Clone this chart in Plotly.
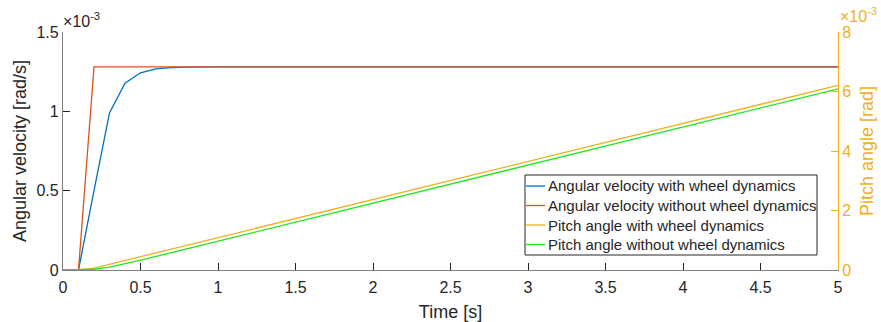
import plotly.graph_objects as go

# Time samples [s]
t = [0, 0.1, 0.2, 0.3, 0.4, 0.5, 0.6, 0.7, 0.8, 1, 2, 3, 4, 5]

# Angular velocity [rad/s]
omega_wheel = [0, 0, 0.50e-3, 0.99e-3, 1.177e-3, 1.243e-3, 1.268e-3, 1.276e-3, 1.279e-3,
               1.28e-3, 1.28e-3, 1.28e-3, 1.28e-3, 1.28e-3]
omega_nowheel = [0, 0, 1.28e-3, 1.28e-3, 1.28e-3, 1.28e-3, 1.28e-3, 1.28e-3, 1.28e-3,
                 1.28e-3, 1.28e-3, 1.28e-3, 1.28e-3, 1.28e-3]

# Pitch angle [rad]
pitch_wheel = [0, 0, 0.064e-3, 0.192e-3, 0.320e-3, 0.448e-3, 0.576e-3, 0.704e-3, 0.832e-3,
               1.088e-3, 2.368e-3, 3.648e-3, 4.928e-3, 6.208e-3]
pitch_nowheel = [0, 0, 0.025e-3, 0.100e-3, 0.208e-3, 0.329e-3, 0.454e-3, 0.582e-3, 0.710e-3,
                 0.966e-3, 2.246e-3, 3.526e-3, 4.806e-3, 6.086e-3]

names = ["Angular velocity with wheel dynamics",
         "Angular velocity without wheel dynamics",
         "Pitch angle with wheel dynamics",
         "Pitch angle without wheel dynamics"]
colors = ["#0072BD", "#D95319", "#EDB120", "#22E622"]

left_ticks = [0, 0.5e-3, 1e-3, 1.5e-3]
left_ticktext = ["0", "0.5", "1", "1.5"]
right_ticks = [0, 2e-3, 4e-3, 6e-3, 8e-3]
right_ticktext = ["0", "2", "4", "6", "8"]
x_ticks = [0, 0.5, 1, 1.5, 2, 2.5, 3, 3.5, 4, 4.5, 5]
x_ticktext = ["0", "0.5", "1", "1.5", "2", "2.5", "3", "3.5", "4", "4.5", "5"]

FONT = "Liberation Sans"
DARK = "#262626"
YEL = "#EDB120"
TICK = 16
TITLE = 18

# plot-area geometry in pixels (for the MATLAB-style legend box)
W, H = 881, 322
ML, MR, MT, MB = 63, 43, 32, 52
PW, PH = W - ML - MR, H - MT - MB


def px(x):
    return (x - ML) / PW


def py(y):
    return (H - MB - y) / PH


fig = go.Figure()
series = [(omega_wheel, "y"), (omega_nowheel, "y"), (pitch_wheel, "y2"), (pitch_nowheel, "y2")]
for (vals, ax), name, c in zip(series, names, colors):
    fig.add_trace(go.Scatter(x=t, y=vals, mode="lines", name=name, yaxis=ax,
                             line=dict(color=c, width=1.3), showlegend=False))

fig.update_layout(
    width=W, height=H,
    margin=dict(l=ML, r=MR, t=MT, b=MB, autoexpand=False),
    paper_bgcolor="white", plot_bgcolor="white",
    font=dict(family=FONT, size=TICK, color=DARK),
    showlegend=False,
    xaxis=dict(range=[0, 5], tickvals=x_ticks, ticktext=x_ticktext,
               ticks="inside", ticklen=7, tickcolor=DARK, automargin=False,
               ticklabelstandoff=3,
               showline=True, linecolor="#808080", linewidth=1.3,
               showgrid=False, zeroline=False,
               title=dict(text="Time [s]", font=dict(size=TITLE, color=DARK), standoff=14),
               tickfont=dict(size=TICK, color=DARK)),
    yaxis=dict(range=[0, 1.5e-3], tickvals=left_ticks, ticktext=left_ticktext,
               ticks="inside", ticklen=7, tickcolor=DARK, automargin=False,
               showline=True, linecolor="#808080", linewidth=1.3,
               showgrid=False, zeroline=False,
               title=dict(text="Angular velocity [rad/s]", font=dict(size=TITLE, color=DARK), standoff=5),
               tickfont=dict(size=TICK, color=DARK)),
    yaxis2=dict(range=[0, 8e-3], tickvals=right_ticks, ticktext=right_ticktext,
                overlaying="y", side="right", automargin=False,
                ticks="inside", ticklen=7, tickcolor=YEL,
                showline=True, linecolor=YEL, linewidth=1.3,
                showgrid=False, zeroline=False,
                title=dict(text="Pitch angle [rad]", font=dict(size=TITLE, color=YEL), standoff=10),
                tickfont=dict(size=TICK, color=YEL)),
)

# MATLAB-style legend: box, short line samples, labels
box_x0, box_x1, box_y0, box_y1 = 525, 817, 175, 255
row_y = [186, 205.5, 225, 244.5]
fig.add_shape(type="rect", xref="paper", yref="paper",
              x0=px(box_x0), x1=px(box_x1), y0=py(box_y1), y1=py(box_y0),
              line=dict(color=DARK, width=1), fillcolor="white", layer="above")
for name, c, ry in zip(names, colors, row_y):
    fig.add_shape(type="line", xref="paper", yref="paper",
                  x0=px(526), x1=px(545), y0=py(ry), y1=py(ry),
                  line=dict(color=c, width=1.3), layer="above")
    fig.add_annotation(text=name, xref="paper", yref="paper", x=px(546), y=py(ry),
                       xanchor="left", yanchor="middle", showarrow=False,
                       font=dict(family=FONT, size=15, color=DARK))

fig.add_annotation(text="×10<sup>-3</sup>", xref="paper", yref="paper", x=0, y=1.0,
                   xanchor="left", yanchor="bottom", showarrow=False,
                   font=dict(family=FONT, size=16, color=DARK), xshift=-2, yshift=0)
fig.add_annotation(text="×10<sup>-3</sup>", xref="paper", yref="paper", x=1, y=1.0,
                   xanchor="left", yanchor="bottom", showarrow=False,
                   font=dict(family=FONT, size=16, color=YEL), xshift=0, yshift=5)

fig.write_html("out.html")
